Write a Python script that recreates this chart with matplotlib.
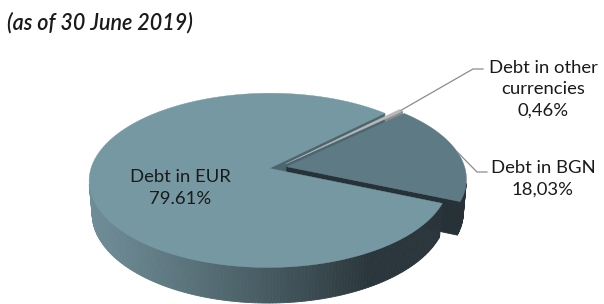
import numpy as np
import matplotlib
matplotlib.use('Agg')
import matplotlib.pyplot as plt
from matplotlib.patches import Polygon
from matplotlib.colors import to_rgb

# Chart data
labels = ['Debt in EUR', 'Debt in BGN', 'Debt in other\ncurrencies']
shares = [79.61, 18.03, 0.46]
pct_labels = ['79.61%', '18,03%', '0,46%']
title = '(as of 30 June 2019)'

# Slice styling
explode = [0.05, 0.05, 0.06]
top_colors = ['#7598a3', '#5e7a84', '#b8b8b8']
cut_colors = ['#4c666f', '#263238', '#8c8c8c']
wall_light = ['#708e98', '#34444a', '#a0a0a0']
wall_dark = ['#2a363b', '#273136', '#707070']

# View settings (pixel canvas, simple perspective camera)
W, H = 604, 304
cx, cy = 278, 167.5
D = 6.37
tilt = np.radians(28.6)
f = 178 * D
depth = 0.21
start = 45.0
sn, cs = np.sin(tilt), np.cos(tilt)


def proj(X, Y, Z):
    dist = D + Y * cs - Z * sn
    return cx + f * X / dist, cy - f * (Y * sn + Z * cs) / dist, dist


def mix(c1, c2, t):
    a, b = np.array(to_rgb(c1)), np.array(to_rgb(c2))
    return tuple(a + (b - a) * t)


fig = plt.figure(figsize=(W / 100, H / 100), dpi=100)
ax = fig.add_axes([0, 0, 1, 1])
ax.set_xlim(0, W)
ax.set_ylim(H, 0)
ax.axis('off')

fracs = np.array(shares) / sum(shares)
bounds = start + 360 * np.concatenate([[0], np.cumsum(fracs)])

sides = []   # (dist, points, color)
tops = []
for i in range(len(shares)):
    a0, a1 = bounds[i], bounds[i + 1]
    mid = np.radians((a0 + a1) / 2)
    ox, oy = explode[i] * np.cos(mid), explode[i] * np.sin(mid)
    n = max(3, int(a1 - a0) + 2)
    t = np.radians(np.linspace(a0, a1, n))

    # top face
    pts = [proj(ox, oy, 0)[:2]] + [proj(ox + np.cos(a), oy + np.sin(a), 0)[:2] for a in t]
    tops.append((pts, top_colors[i]))

    # outer wall, split in thin strips for the shading
    for k in range(n - 1):
        am = (t[k] + t[k + 1]) / 2
        vis = -D * cs * np.sin(am) - (np.cos(am) * ox + np.sin(am) * oy) - 1
        if vis <= 0:
            continue
        quad = [proj(ox + np.cos(a), oy + np.sin(a), z) for a, z in
                [(t[k], 0), (t[k + 1], 0), (t[k + 1], -depth), (t[k], -depth)]]
        shade = np.clip((np.cos(am) + 1) / 1.5, 0, 1) ** 1.3
        col = mix(wall_light[i], wall_dark[i], shade)
        sides.append((np.mean([q[2] for q in quad]), [q[:2] for q in quad], col))

    # cut faces at both ends of the slice
    for a, nrm in [(t[0], t[0] - np.pi / 2), (t[-1], t[-1] + np.pi / 2)]:
        nx, ny = np.cos(nrm), np.sin(nrm)
        if -D * cs * ny - (nx * ox + ny * oy) <= 0:
            continue
        quad = [proj(ox, oy, 0), proj(ox + np.cos(a), oy + np.sin(a), 0),
                proj(ox + np.cos(a), oy + np.sin(a), -depth), proj(ox, oy, -depth)]
        sides.append((np.mean([q[2] for q in quad]), [q[:2] for q in quad], cut_colors[i]))

for dist, pts, col in sorted(sides, key=lambda s: -s[0]):
    ax.add_patch(Polygon(pts, closed=True, facecolor=col, edgecolor=col, lw=0.6))
for pts, col in tops:
    ax.add_patch(Polygon(pts, closed=True, facecolor=col, edgecolor=col, lw=0.3))

font = 'Lato'

# Title
ax.text(7, 23, title, fontsize=15.5, fontweight='semibold', fontstyle='italic',
        family=font, ha='left', va='center', color='#1a1a1a')

# Inside label for the big slice
ax.text(180, 188, labels[0] + '\n' + pct_labels[0], fontsize=13.3, family=font,
        ha='center', va='center', linespacing=1.4, color='#1a1a1a')

# Outside labels with leader lines
label_pos = {1: (543, 179), 2: (543, 89)}
elbows = {1: [(477, 172), (487, 172)], 2: [(473, 69), (483, 69)]}
for i in (1, 2):
    mid = np.radians((bounds[i] + bounds[i + 1]) / 2)
    r = 1 + explode[i]
    sx, sy, _ = proj(r * np.cos(mid), r * np.sin(mid), 0)
    xs = [sx] + [p[0] for p in elbows[i]]
    ys = [sy] + [p[1] for p in elbows[i]]
    ax.plot(xs, ys, color='#8c8c8c', lw=0.9)
    ax.text(*label_pos[i], labels[i] + '\n' + pct_labels[i], fontsize=13.3, family=font,
            ha='center', va='center', linespacing=1.4, color='#1a1a1a')

fig.savefig('out.png', dpi=100)
